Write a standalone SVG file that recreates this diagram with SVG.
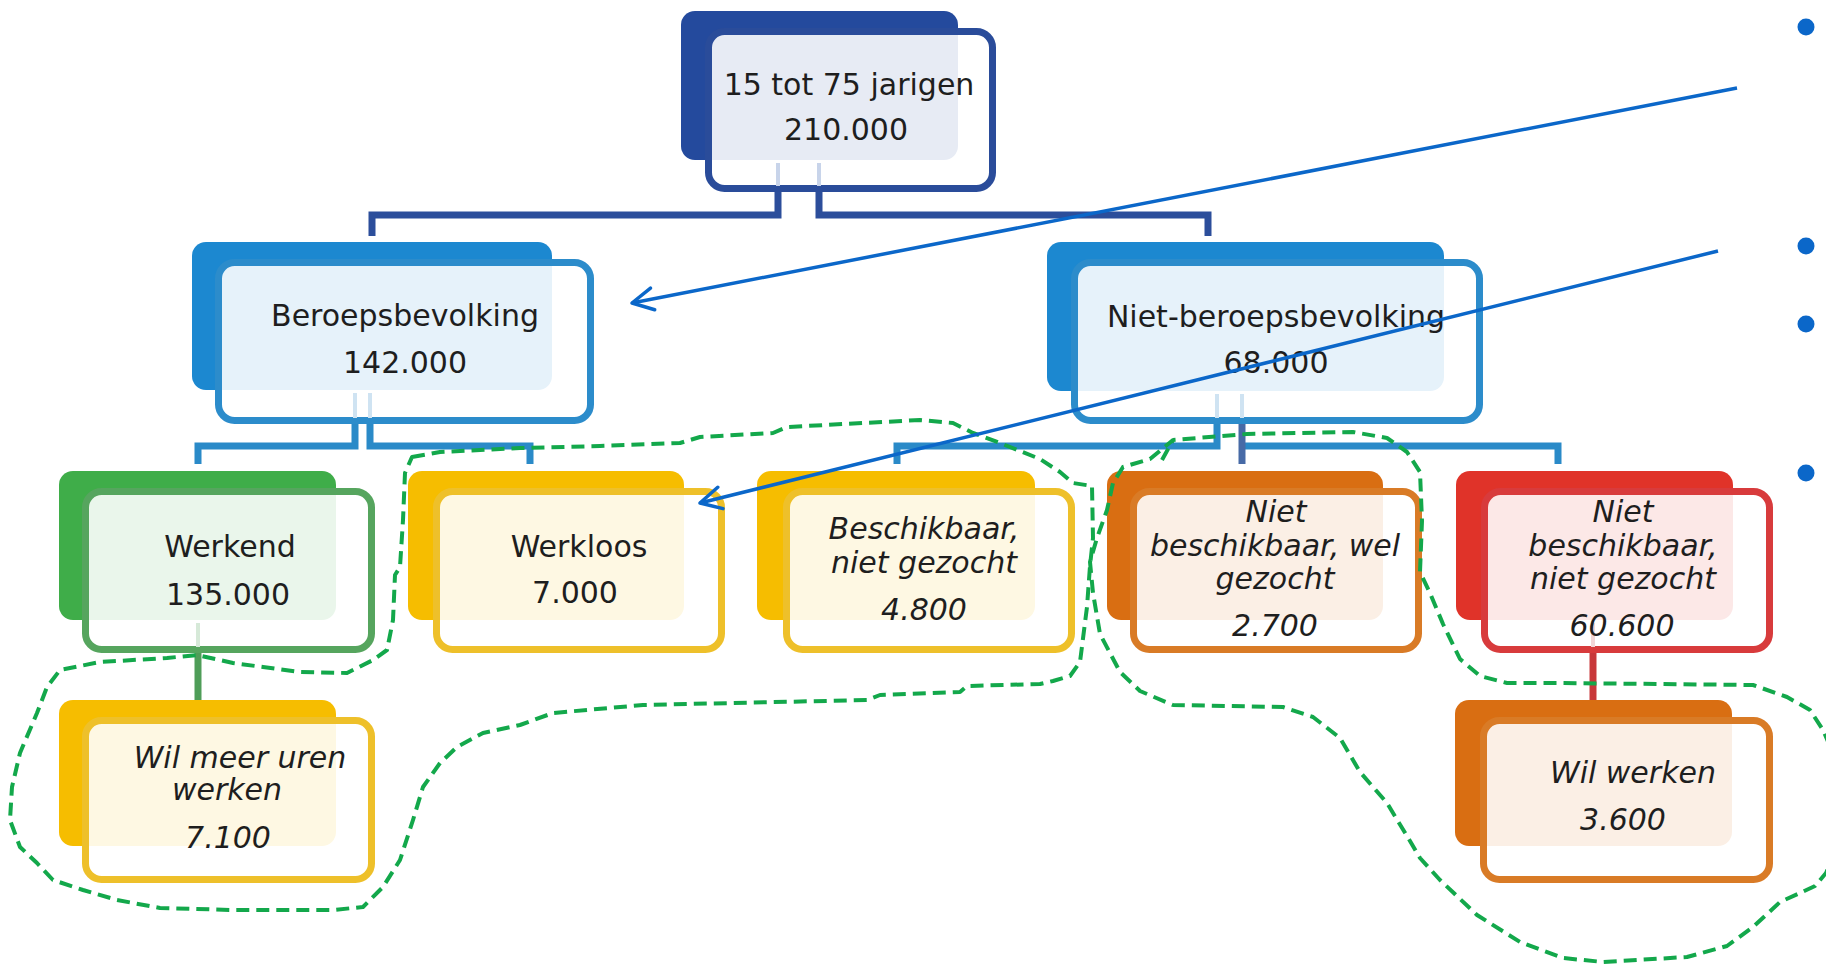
<svg xmlns="http://www.w3.org/2000/svg" width="1826" height="964" viewBox="0 0 1826 964">
<style>
.t{font-family:"DejaVu Sans",Verdana,sans-serif;font-size:30px;fill:#1e1e1e;text-anchor:middle}
.i{font-style:italic}
.front{fill:#ffffff;fill-opacity:0.89;stroke-width:7}
.conn{fill:none;stroke-width:7;stroke-linecap:butt;stroke-linejoin:miter}
.faint{stroke-width:4;fill:none}
.dash{fill:none;stroke:#13a84b;stroke-width:4;stroke-dasharray:13 7;stroke-linejoin:round;stroke-linecap:butt}
.arrow{fill:none;stroke:#0b67c9;stroke-width:3.5}
.bul{fill:#0b67c9}
.b1{fill:#244a9d}.s1{stroke:#2a4c9a}
.b2{fill:#1c88d0}.s2{stroke:#2c8ccb}
.bg{fill:#3fad49}.sg{stroke:#56a55e}
.by{fill:#f6bd00}.sy{stroke:#eec02a}
.bo{fill:#d96e12}.so{stroke:#d97b26}
.br{fill:#e03329}.sr{stroke:#d83b3c}
</style>
<defs>
<marker id="ah" markerUnits="userSpaceOnUse" markerWidth="40" markerHeight="40" refX="0" refY="0" orient="auto" overflow="visible">
<path d="M-21,-11 L0,0 L-21,11" fill="none" stroke="#0b67c9" stroke-width="3.5" stroke-linecap="round" stroke-linejoin="round"/>
</marker>
</defs>
<rect width="1826" height="964" fill="#ffffff"/>

<g id="connectors">
<path class="conn" stroke="#2c4e9b" d="M778,188 V215 H372 V236"/>
<path class="conn" stroke="#2c4e9b" d="M819,188 V215 H1208 V236"/>
<path class="conn" stroke="#2a8ac8" d="M355,420 V446 H198 V464"/>
<path class="conn" stroke="#2a8ac8" d="M370,420 V446 H530 V464"/>
<path class="conn" stroke="#2a8ac8" d="M1217,420 V446 H897 V464"/>
<path class="conn" stroke="#2a8ac8" d="M1242,446 H1558 V464"/>
<path class="conn" stroke="#476aa6" d="M1242,420 V464"/>
<path class="conn" stroke="#4f9d58" d="M198,650 V702"/>
<path class="conn" stroke="#c8383a" d="M1593,650 V702"/>
</g>

<g id="n-top">
<rect class="b1" x="681" y="11" width="277" height="149" rx="14"/>
<rect class="front s1" x="708.5" y="31.5" width="284" height="157" rx="16"/>
<path class="faint" stroke="#c8d4ea" d="M778,163 V186 M819,163 V186"/>
<text class="t" x="849" y="95">15 tot 75 jarigen</text>
<text class="t" x="846" y="140">210.000</text>
</g>

<g id="n-beroeps">
<rect class="b2" x="192" y="242" width="360" height="148" rx="14"/>
<rect class="front s2" x="218.5" y="262.5" width="372" height="158" rx="16"/>
<path class="faint" stroke="#cfe3f2" d="M355,393 V418 M370,393 V418"/>
<text class="t" x="405" y="326">Beroepsbevolking</text>
<text class="t" x="405" y="373">142.000</text>
</g>

<g id="n-nietberoeps">
<rect class="b2" x="1047" y="242" width="397" height="149" rx="14"/>
<rect class="front s2" x="1074.5" y="262.5" width="405" height="158" rx="16"/>
<path class="faint" stroke="#cfe3f2" d="M1217,394 V418 M1242,394 V418"/>
<text class="t" x="1276" y="327">Niet-beroepsbevolking</text>
<text class="t" x="1276" y="373">68.000</text>
</g>

<g id="n-werkend">
<rect class="bg" x="59" y="471" width="277" height="149" rx="14"/>
<rect class="front sg" x="85.5" y="491.5" width="286" height="158" rx="16"/>
<path class="faint" stroke="#d6e9d8" d="M198,623 V647"/>
<text class="t" x="230" y="557">Werkend</text>
<text class="t" x="228" y="605">135.000</text>
</g>

<g id="n-werkloos">
<rect class="by" x="408" y="471" width="276" height="149" rx="14"/>
<rect class="front sy" x="436.5" y="491.5" width="285" height="158" rx="16"/>
<text class="t" x="579" y="557">Werkloos</text>
<text class="t" x="575" y="603">7.000</text>
</g>

<g id="n-beschikbaar">
<rect class="by" x="757" y="471" width="278" height="149" rx="14"/>
<rect class="front sy" x="786.5" y="491.5" width="285" height="158" rx="16"/>
<text class="t i" x="924" y="539">Beschikbaar,</text>
<text class="t i" x="924" y="573">niet gezocht</text>
<text class="t i" x="924" y="620">4.800</text>
</g>

<g id="n-nietbeschikbaar-wel">
<rect class="bo" x="1107" y="471" width="276" height="149" rx="14"/>
<rect class="front so" x="1133.5" y="491.5" width="285" height="158" rx="16"/>
<text class="t i" x="1276" y="522">Niet</text>
<text class="t i" x="1275" y="556">beschikbaar, wel</text>
<text class="t i" x="1275" y="589">gezocht</text>
<text class="t i" x="1275" y="636">2.700</text>
</g>

<g id="n-nietbeschikbaar-niet">
<rect class="br" x="1456" y="471" width="277" height="149" rx="14"/>
<rect class="front sr" x="1484.5" y="491.5" width="285" height="158" rx="16"/>
<path class="faint" stroke="#f3d6d6" d="M1593,623 V647"/>
<text class="t i" x="1623" y="522">Niet</text>
<text class="t i" x="1623" y="556">beschikbaar,</text>
<text class="t i" x="1623" y="589">niet gezocht</text>
<text class="t i" x="1622" y="636">60.600</text>
</g>

<g id="n-wilmeer">
<rect class="by" x="59" y="700" width="277" height="146" rx="14"/>
<rect class="front sy" x="85.5" y="720.5" width="286" height="159" rx="16"/>
<text class="t i" x="240" y="768">Wil meer uren</text>
<text class="t i" x="227" y="800">werken</text>
<text class="t i" x="228" y="848">7.100</text>
</g>

<g id="n-wilwerken">
<rect class="bo" x="1455" y="700" width="277" height="146" rx="14"/>
<rect class="front so" x="1483.5" y="720.5" width="286" height="159" rx="16"/>
<text class="t i" x="1633" y="783">Wil werken</text>
<text class="t i" x="1623" y="830">3.600</text>
</g>

<g id="outlines">
<path class="dash" d="M412,457 L440,452 L520,448 L600,446 L680,443 L700,437 L773,433 L787,427 L920,420 L953,423 L973,433 L1000,443 L1040,459 L1060,472 L1073,483 L1092,486 L1093,538 L1090,566 L1087,607 L1080,662 L1070,676 L1053,681 L1040,684 L967,686 L960,692 L880,695 L867,700 L643,705 L553,713 L520,725 L483,733 L457,747 L440,763 L423,787 L413,820 L400,860 L383,887 L363,907 L333,910 L233,910 L160,908 L117,900 L83,890 L53,880 L37,863 L20,847 L10,820 L12,787 L20,753 L37,713 L47,687 L60,670 L100,662 L167,658 L197,655 L233,663 L263,667 L300,672 L347,673 L373,660 L387,650 L393,620 L395,575 L400,567 L403,520 L405,473 Z"/>
<path class="dash" d="M1162,460 L1173,440 L1150,459 L1123,467 L1113,483 L1107,510 L1097,538 L1090,562 L1093,593 L1100,634 L1120,672 L1140,691 L1173,705 L1283,707 L1313,717 L1340,738 L1360,772 L1387,803 L1410,841 L1420,858 L1440,880 L1477,915 L1520,942 L1563,958 L1603,962 L1687,957 L1727,946 L1753,927 L1780,902 L1800,893 L1815,886 L1826,873 L1836,850 L1836,760 L1823,730 L1810,710 L1787,697 L1753,685 L1560,683 L1507,683 L1480,676 L1460,659 L1443,624 L1430,593 L1420,572 L1422,521 L1420,472 L1407,452 L1387,438 L1353,432 L1247,434 L1173,440"/>
</g>

<g id="arrows">
<path class="arrow" d="M1737,88 L632,303" marker-end="url(#ah)"/>
<path class="arrow" d="M1718,251 L700,503" marker-end="url(#ah)"/>
</g>

<g id="bullets">
<circle class="bul" cx="1806" cy="27" r="8.5"/>
<circle class="bul" cx="1806" cy="246" r="8.5"/>
<circle class="bul" cx="1806" cy="324" r="8.5"/>
<circle class="bul" cx="1806" cy="473" r="8.5"/>
</g>
</svg>
